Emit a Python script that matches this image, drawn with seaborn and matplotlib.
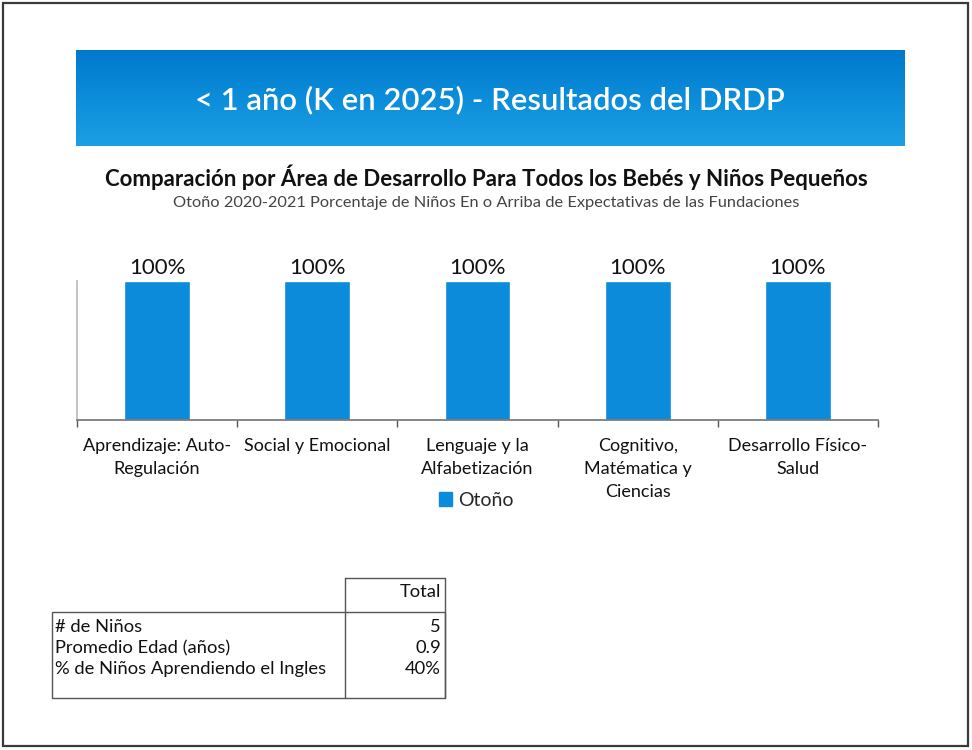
import matplotlib.pyplot as plt
import numpy as np
import pandas as pd
import seaborn as sns
from matplotlib.colors import LinearSegmentedColormap
from matplotlib.patches import Patch, Rectangle

# datos del gráfico
areas = [
    "Aprendizaje: Auto-\nRegulación",
    "Social y Emocional",
    "Lenguaje y la\nAlfabetización",
    "Cognitivo,\nMatématica y\nCiencias",
    "Desarrollo Físico-\nSalud",
]
otono = [1.0, 1.0, 1.0, 1.0, 1.0]
serie = "Otoño"

# tabla resumen
filas_tabla = ["# de Niños", "Promedio Edad (años)", "% de Niños Aprendiendo el Ingles"]
valores_tabla = ["5", "0.9", "40%"]
columna_tabla = "Total"

titulo = "< 1 año (K en 2025) - Resultados del DRDP"
subtitulo = "Comparación por Área de Desarrollo Para Todos los Bebés y Niños Pequeños"
subtitulo2 = "Otoño 2020-2021 Porcentaje de Niños En o Arriba de Expectativas de las Fundaciones"

AZUL = "#0B8BDA"
W, H = 972, 750


def fx(px):
    return px / W


def fy(py):
    return 1 - py / H


def main():
    sns.set_theme(style="white")
    plt.rcParams["font.family"] = ["Lato", "DejaVu Sans"]

    fig = plt.figure(figsize=(9.72, 7.5), dpi=100)
    fig.patch.set_facecolor("white")

    # marco exterior
    fig.patches.append(Rectangle((fx(3), fy(746)), fx(965), 743 / H, transform=fig.transFigure,
                                 fill=False, edgecolor="#3a3a3a", linewidth=1.6))

    # banda azul del título con degradado
    ax_band = fig.add_axes([fx(76), fy(146), fx(828), 96 / H])
    cmap = LinearSegmentedColormap.from_list("banda", ["#0079CC", "#0C8DDA", "#1C9FE4"])
    ax_band.imshow(np.linspace(0, 1, 100).reshape(-1, 1), aspect="auto", cmap=cmap, extent=[0, 1, 0, 1], origin="upper")
    ax_band.set_axis_off()
    ax_band.text(0.5, 0.48, titulo, color="white", fontsize=22.3, fontweight="semibold",
                 ha="center", va="center", transform=ax_band.transAxes)

    fig.text(0.5, fy(177), subtitulo, fontsize=16, fontweight="bold", ha="center", va="center", color="#111111")
    fig.text(0.5, fy(203), subtitulo2, fontsize=11.8, ha="center", va="center", color="#444444")

    # gráfico de barras
    df = pd.DataFrame({"area": areas, "valor": otono})
    ax = fig.add_axes([fx(77), fy(420), fx(801), 139 / H])
    sns.barplot(data=df, x="area", y="valor", color=AZUL, width=0.41, saturation=1, ax=ax)
    ax.set_ylim(0, 1.0)
    ax.set_xlim(-0.5, len(areas) - 0.5)
    ax.set_xlabel("")
    ax.set_ylabel("")
    ax.set_yticks([])
    ax.bar_label(ax.containers[0], labels=[f"{v:.0%}" for v in otono], fontsize=16, padding=2, color="#111111")
    ax.tick_params(axis="x", which="major", length=0, pad=13, labelsize=13, labelcolor="#111111")
    for lab in ax.get_xticklabels():
        lab.set_linespacing(1.55)
    ax.set_xticks(np.arange(-0.5, len(areas)), minor=True)
    ax.tick_params(axis="x", which="minor", length=5, color="#555555", bottom=True)
    for s in ["top", "right"]:
        ax.spines[s].set_visible(False)
    ax.spines["left"].set_color("#bbbbbb")
    ax.spines["bottom"].set_color("#777777")

    fig.legend(handles=[Patch(color=AZUL, label=serie)], loc="center", bbox_to_anchor=(fx(476), fy(500)),
               frameon=False, fontsize=14, handlelength=0.7, handleheight=0.7, handletextpad=0.3)

    # tabla resumen
    lc = "#555555"
    fig.add_artist(plt.Line2D([fx(345), fx(445)], [fy(578), fy(578)], transform=fig.transFigure, color=lc, lw=1))
    fig.add_artist(plt.Line2D([fx(345), fx(345)], [fy(578), fy(698)], transform=fig.transFigure, color=lc, lw=1))
    fig.add_artist(plt.Line2D([fx(445), fx(445)], [fy(578), fy(698)], transform=fig.transFigure, color=lc, lw=1))
    fig.patches.append(Rectangle((fx(52), fy(698)), fx(393), 86 / H, transform=fig.transFigure,
                                 fill=False, edgecolor=lc, linewidth=1))
    fig.text(fx(441), fy(592), columna_tabla, fontsize=13.2, ha="right", va="center", color="#111111")
    for i, (nombre, valor) in enumerate(zip(filas_tabla, valores_tabla)):
        y = fy(627 + 21 * i)
        fig.text(fx(55), y, nombre, fontsize=13.2, ha="left", va="center", color="#111111")
        fig.text(fx(441), y, valor, fontsize=13.2, ha="right", va="center", color="#111111")

    fig.savefig("out.png", dpi=100)
    plt.close(fig)


if __name__ == "__main__":
    main()
